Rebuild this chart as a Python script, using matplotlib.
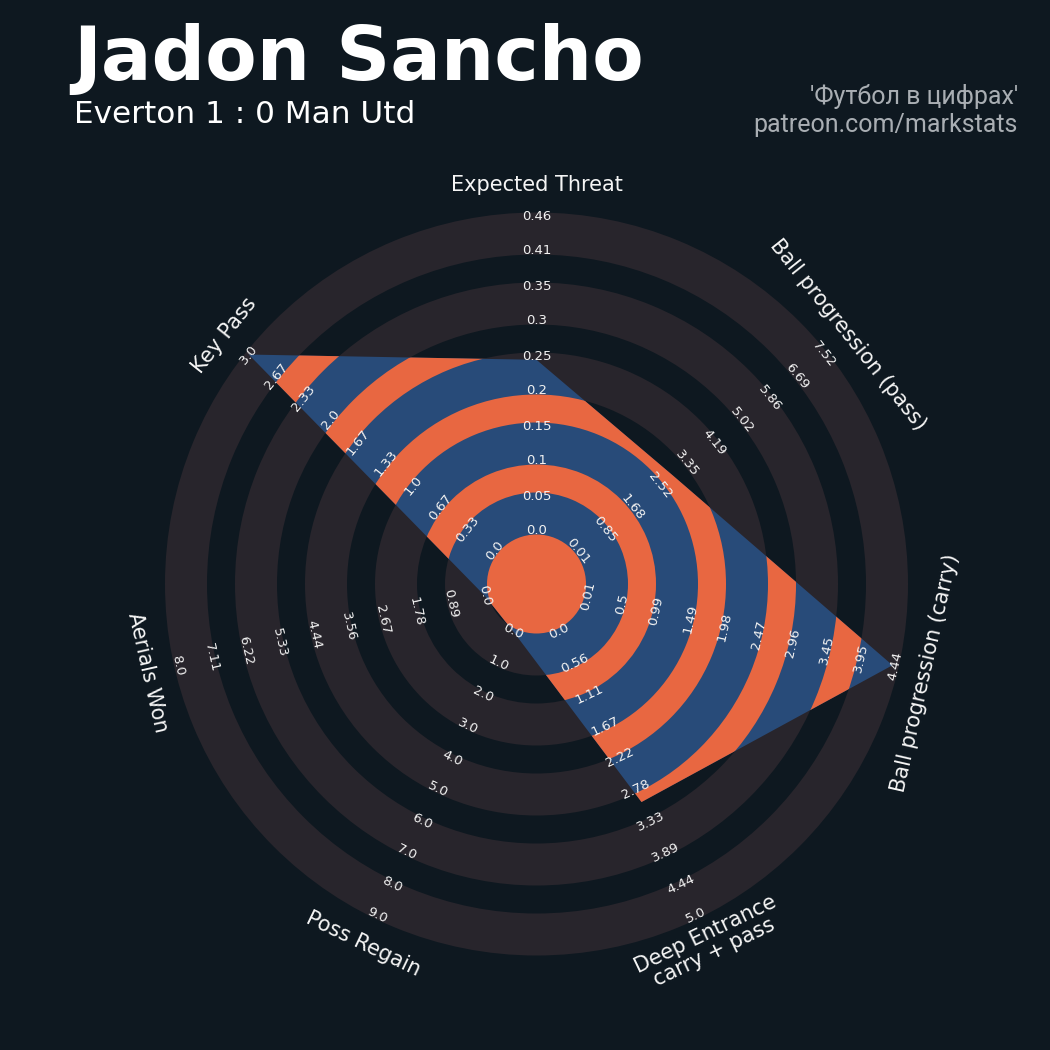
import numpy as np
import matplotlib
matplotlib.use('Agg')
import matplotlib.pyplot as plt
from matplotlib.patches import Wedge, Polygon, Circle

# ---------------- data ----------------
params = ['Expected Threat', 'Ball progression (pass)', 'Ball progression (carry)',
          'Deep Entrance\ncarry + pass', 'Poss Regain', 'Aerials Won', 'Key Pass']
values = [0.25, 2.9, 4.4, 3.0, 0.0, 0.0, 3.0]
range_min = [0.0, 0.01, 0.01, 0.0, 0.0, 0.0, 0.0]
range_max = [0.46, 7.52, 4.44, 5.0, 9.0, 8.0, 3.0]
range_labels = [
    ['0.0', '0.05', '0.1', '0.15', '0.2', '0.25', '0.3', '0.35', '0.41', '0.46'],
    ['0.01', '0.85', '1.68', '2.52', '3.35', '4.19', '5.02', '5.86', '6.69', '7.52'],
    ['0.01', '0.5', '0.99', '1.49', '1.98', '2.47', '2.96', '3.45', '3.95', '4.44'],
    ['0.0', '0.56', '1.11', '1.67', '2.22', '2.78', '3.33', '3.89', '4.44', '5.0'],
    ['0.0', '1.0', '2.0', '3.0', '4.0', '5.0', '6.0', '7.0', '8.0', '9.0'],
    ['0.0', '0.89', '1.78', '2.67', '3.56', '4.44', '5.33', '6.22', '7.11', '8.0'],
    ['0.0', '0.33', '0.67', '1.0', '1.33', '1.67', '2.0', '2.33', '2.67', '3.0'],
]
title = 'Jadon Sancho'
subtitle = 'Everton 1 : 0 Man Utd'
credit = ["'Футбол в цифрах'", 'patreon.com/markstats']

# ---------------- style / layout ----------------
BG = '#0E1820'
GRAY = '#28252C'
BLUE = '#284B79'
ORANGE = '#E86741'
W = 1050
CX, CY = 536.5, 584.0       # radar centre (pixel units, y downward)
C = 53.0                    # centre circle radius
RW = 35.0                   # ring width
NR = 9                      # number of rings
EXT = 3.5                   # ring edge extension
LABEL_R = 399.0

fig = plt.figure(figsize=(10.5, 10.5), dpi=100, facecolor=BG)
ax = fig.add_axes([0, 0, 1, 1])
ax.set_xlim(0, W)
ax.set_ylim(W, 0)
ax.axis('off')
ax.set_facecolor(BG)

n = len(params)
angles = 90 - np.arange(n) * 360.0 / n


def pos(theta, r):
    t = np.deg2rad(theta)
    return CX + r * np.cos(t), CY - r * np.sin(t)


def upright(theta):
    rot = (theta - 90 + 180) % 360 - 180
    if rot < -90:
        rot += 180
    elif rot > 90:
        rot -= 180
    return rot


# background rings (even rings, slightly widened)
for k in range(0, NR, 2):
    r_in = C + k * RW - EXT
    r_out = C + (k + 1) * RW + EXT
    ax.add_patch(Wedge((CX, CY), r_out, 0, 360, width=r_out - r_in,
                       facecolor=GRAY, edgecolor='none', zorder=1))

# radar polygon
radii = [C + (v - lo) / (hi - lo) * NR * RW
         for v, lo, hi in zip(values, range_min, range_max)]
verts = [pos(a, r) for a, r in zip(angles, radii)]
poly = Polygon(verts, closed=True, facecolor=BLUE, edgecolor='none', zorder=2)
ax.add_patch(poly)

# complementary rings inside the radar
inner = [Circle((CX, CY), C - EXT, facecolor=ORANGE, edgecolor='none', zorder=3)]
for k in range(1, NR, 2):
    r_in = C + k * RW + EXT
    r_out = C + (k + 1) * RW - EXT
    inner.append(Wedge((CX, CY), r_out, 0, 360, width=r_out - r_in,
                       facecolor=ORANGE, edgecolor='none', zorder=3))
for p in inner:
    ax.add_patch(p)
    p.set_clip_path(poly)

# range labels
for a, labs in zip(angles, range_labels):
    rot = upright(a)
    for j, lab in enumerate(labs):
        x, y = pos(a, C + j * RW)
        ax.text(x, y, lab, rotation=rot, rotation_mode='anchor', ha='center',
                va='center', fontsize=9.5, color='#F2F2F2', zorder=6)

# parameter labels
for a, p in zip(angles, params):
    x, y = pos(a, LABEL_R)
    ax.text(x, y, p, rotation=upright(a), rotation_mode='anchor', ha='center',
            va='center', fontsize=15, color='#F5F5F5', zorder=6,
            multialignment='center', linespacing=1.0)

# titles
ax.text(73, 80, title, fontsize=54, fontweight='bold', color='white',
        ha='left', va='baseline')
ax.text(74, 123, subtitle, fontsize=22.4, color='white', ha='left', va='baseline')
ax.text(1018, 104, credit[0], fontsize=18, color='#A9AEB3', ha='right',
        va='baseline', family='Roboto')
ax.text(1018, 132, credit[1], fontsize=18, color='#A9AEB3', ha='right',
        va='baseline', family='Roboto')

fig.savefig('out.png', dpi=100, facecolor=BG)
